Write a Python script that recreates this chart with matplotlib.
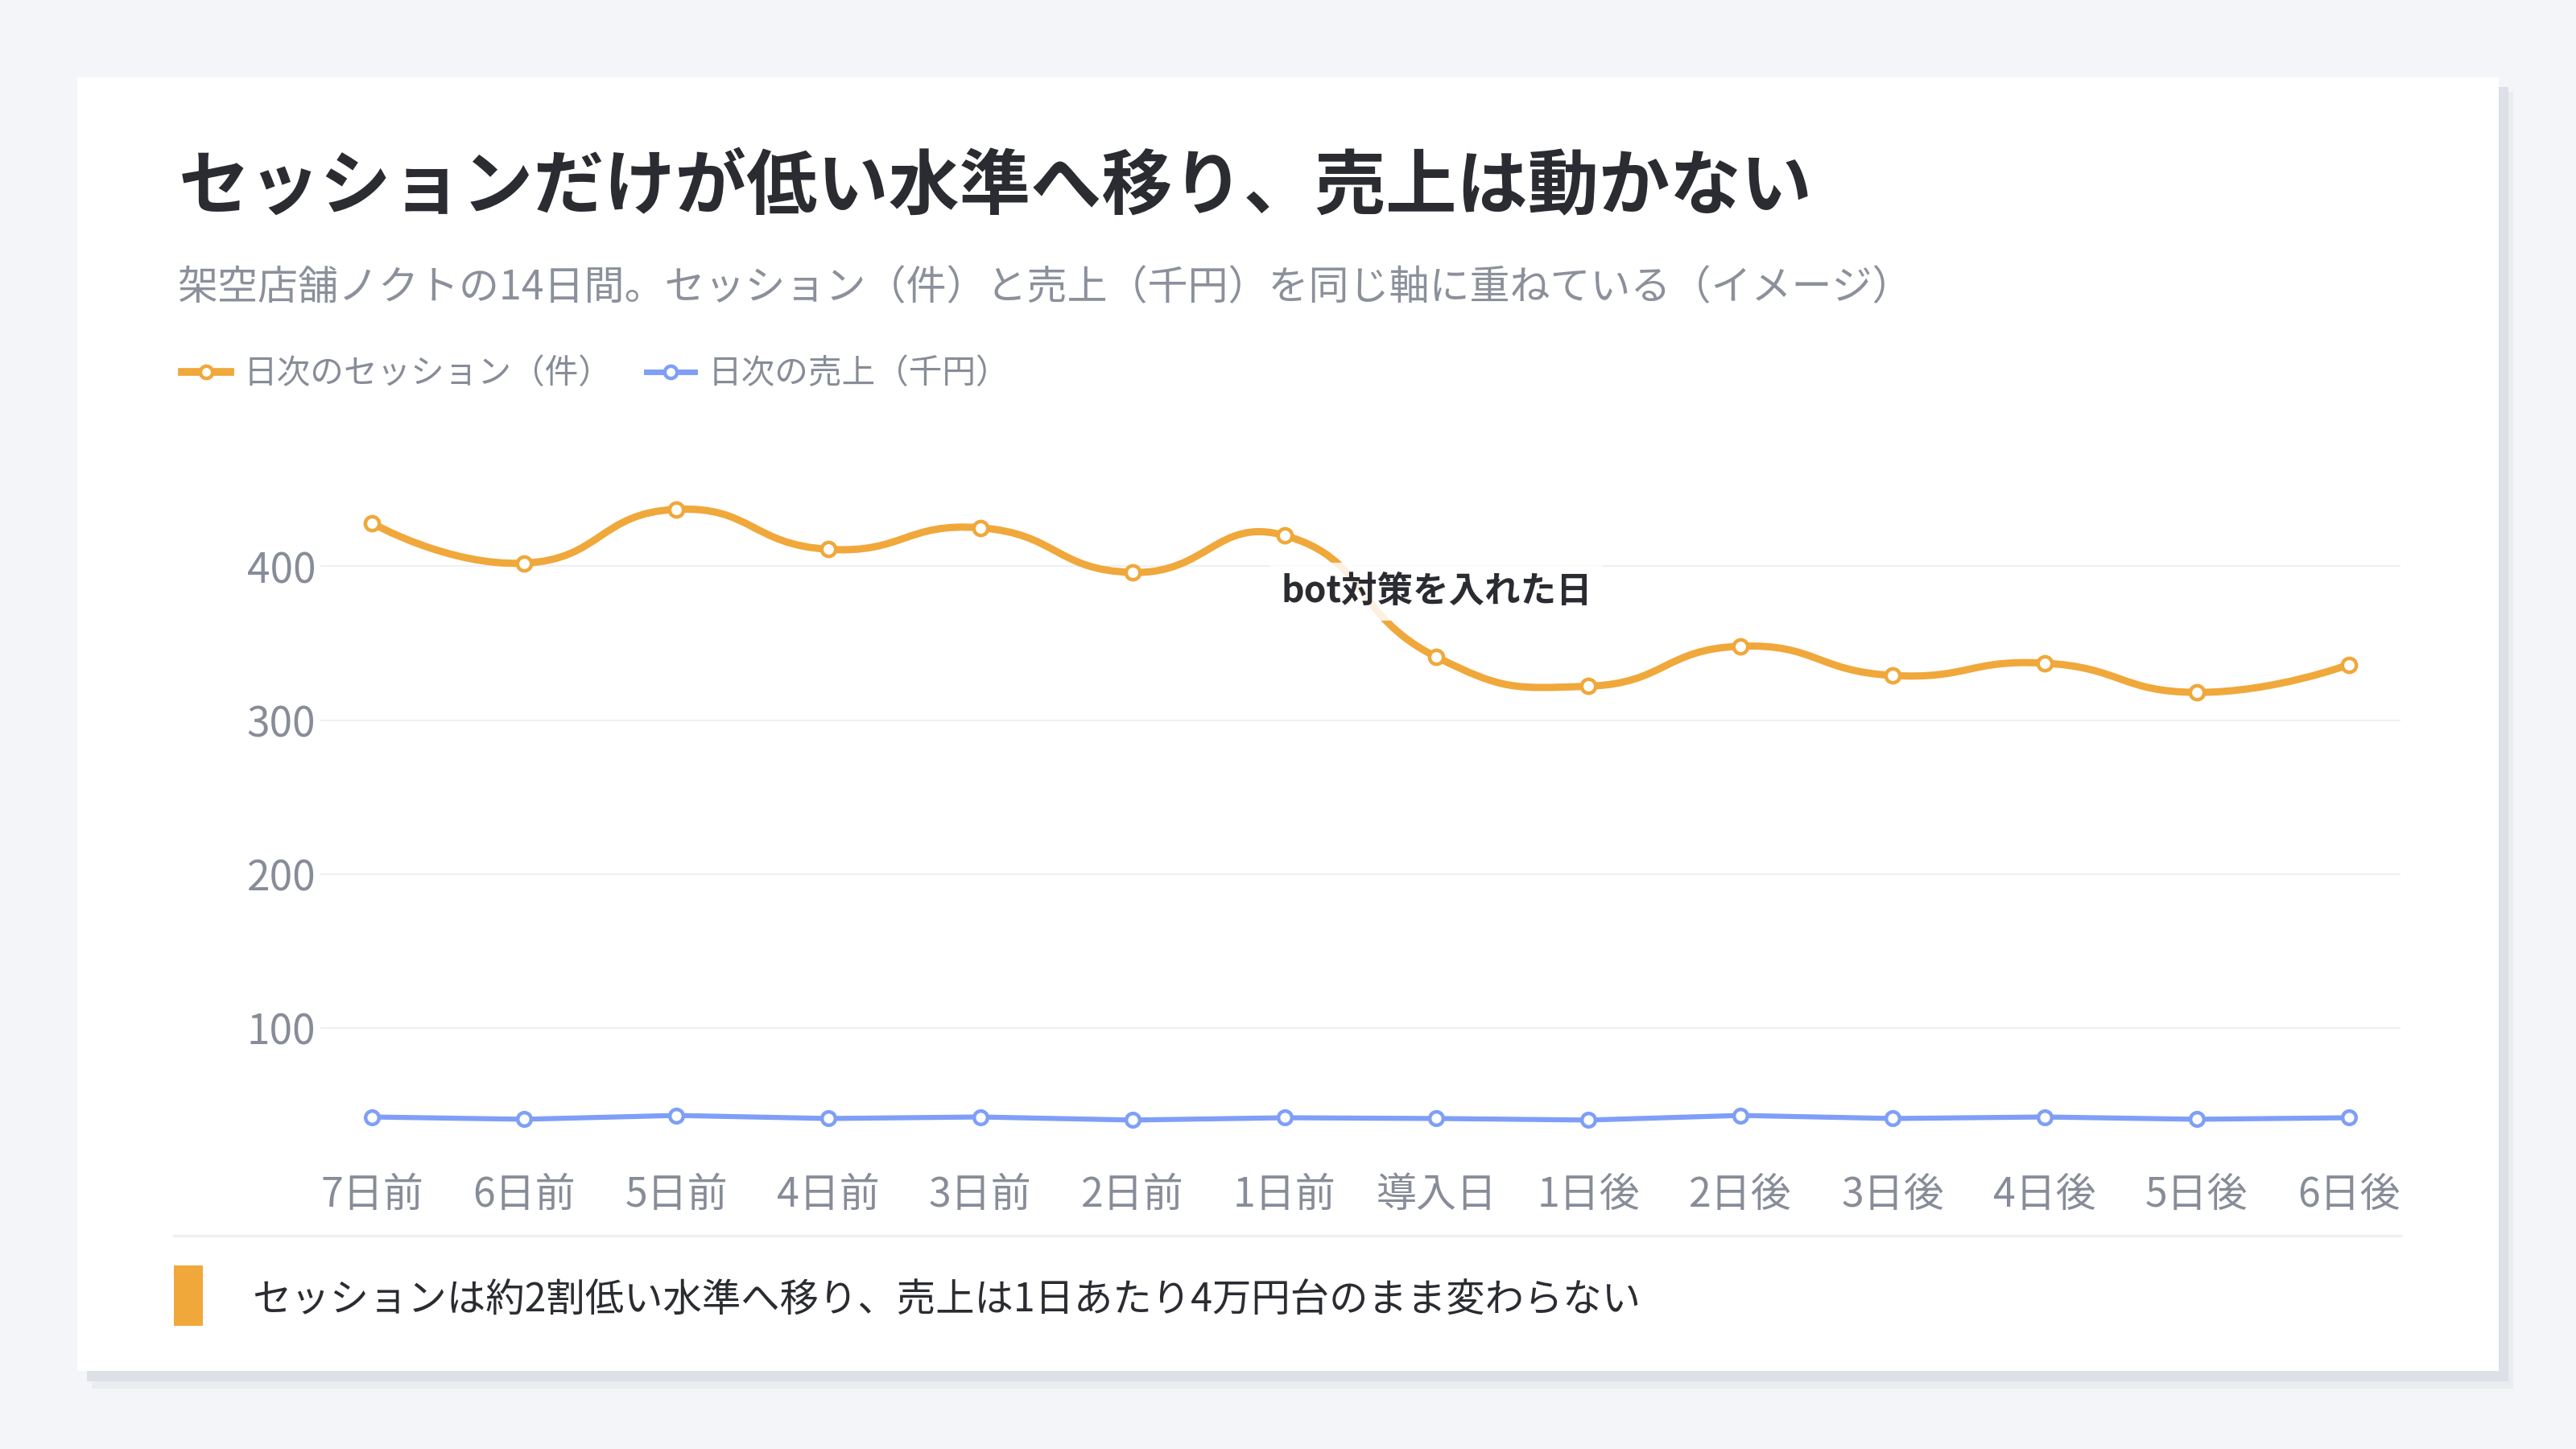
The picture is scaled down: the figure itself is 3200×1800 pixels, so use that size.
import numpy as np
import matplotlib
matplotlib.use("Agg")
import matplotlib.pyplot as plt
from matplotlib.path import Path
from matplotlib.patches import PathPatch, Rectangle
from matplotlib.lines import Line2D

plt.rcParams['font.family'] = ['Noto Sans CJK JP', 'DejaVu Sans']

# data
days = ['7日前', '6日前', '5日前', '4日前', '3日前', '2日前', '1日前',
        '導入日', '1日後', '2日後', '3日後', '4日後', '5日後', '6日後']
sessions = [428, 402, 437, 411, 425, 396, 420, 341, 322, 348, 329, 337, 318, 336]
sales = [42, 40.5, 43, 41, 42, 40, 41.5, 41, 40, 43, 41, 42, 40.5, 41.5]
event_day = '導入日'
event_label = 'bot対策を入れた日'

title = 'セッションだけが低い水準へ移り、売上は動かない'
subtitle = '架空店舗ノクトの14日間。セッション（件）と売上（千円）を同じ軸に重ねている（イメージ）'
note = 'セッションは約2割低い水準へ移り、売上は1日あたり4万円台のまま変わらない'
sess_name = '日次のセッション（件）'
sales_name = '日次の売上（千円）'

ORANGE = '#f0a83b'
BLUE = '#7f9ff7'
DARK = '#2a2c32'
GRAY = '#878c98'
GRID = '#eef0f4'

W, H = 3200, 1800
fig = plt.figure(figsize=(32, 18), dpi=100, facecolor='#f4f5f9')


def fx(px):
    return px / W


def fy(py):
    return 1 - py / H


# card with a soft shadow
for (x0, y0, x1, y1, c) in [(114, 114, 3122, 1725, '#eaecf0'),
                            (108, 108, 3116, 1716, '#dde0e7'),
                            (96, 96, 3104, 1703, 'white')]:
    fig.patches.append(Rectangle((fx(x0), fy(y1)), fx(x1 - x0), (y1 - y0) / H,
                                 transform=fig.transFigure, facecolor=c,
                                 edgecolor='none', zorder=-5))

fig.text(fx(222), fy(233), title, fontsize=63.5, fontweight='bold', color=DARK, va='center')
fig.text(fx(220), fy(358), subtitle, fontsize=36, color='#8b909b', va='center')

# plot area
ylo, yhi = 20, 470
top_px = 1467.8 - yhi * 1.911
bot_px = 1467.8 - ylo * 1.911
ax = fig.add_axes([fx(398), fy(bot_px), fx(2982 - 398), (bot_px - top_px) / H])
ax.set_facecolor('none')
ax.set_xlim(-0.34, len(days) - 1 + 0.34)
ax.set_ylim(ylo, yhi)
for s in ax.spines.values():
    s.set_visible(False)
ax.set_yticks([100, 200, 300, 400])
ax.yaxis.grid(True, color=GRID, linewidth=1.5)
ax.set_axisbelow(True)
ax.set_xticks(range(len(days)))
ax.set_xticklabels(days)
ax.tick_params(axis='x', length=0, pad=21, labelsize=36, labelcolor=GRAY)
ax.tick_params(axis='y', length=0, pad=4, labelsize=37, labelcolor=GRAY)

xs = np.arange(len(days))


def smooth_line(values, color, lw, smooth=0.5):
    # echarts-like smooth curve, built in pixel space
    pts = ax.transData.transform(np.column_stack([xs, values]))
    verts = [pts[0]]
    codes = [Path.MOVETO]
    cp0 = pts[0]
    n = len(pts)
    for i in range(1, n):
        p = pts[i]
        prev = pts[i - 1]
        if i < n - 1:
            nxt = pts[i + 1]
            v = nxt - prev
            l0 = np.hypot(*(p - prev))
            l1 = np.hypot(*(nxt - p))
            r = l1 / (l0 + l1)
            next_cp0 = p + v * smooth * r
        else:
            v = np.zeros(2)
            r = 0.5
            next_cp0 = p
        cp1 = p - v * smooth * (1 - r)
        verts += [cp0, cp1, p]
        codes += [Path.CURVE4] * 3
        cp0 = next_cp0
    verts = ax.transData.inverted().transform(np.array(verts))
    ax.add_patch(PathPatch(Path(verts, codes), facecolor='none', edgecolor=color,
                           linewidth=lw, capstyle='round', joinstyle='round', zorder=3))


smooth_line(sessions, ORANGE, 6.5)
smooth_line(sales, BLUE, 4.5, smooth=0.0)
ax.plot(xs, sessions, linestyle='none', marker='o', markersize=12.5, markerfacecolor='white',
        markeredgecolor=ORANGE, markeredgewidth=3.2, zorder=4)
ax.plot(xs, sales, linestyle='none', marker='o', markersize=12, markerfacecolor='white',
        markeredgecolor=BLUE, markeredgewidth=3.2, zorder=4)

ax.text(days.index(event_day), 383.5, event_label, ha='center', va='center', fontsize=32,
        fontweight='bold', color=DARK, zorder=5,
        bbox=dict(boxstyle='square,pad=0.3', facecolor='white', edgecolor='none', alpha=0.85))

# legend
handles = [Line2D([], [], color=ORANGE, linewidth=7, marker='o', markersize=11,
                  markerfacecolor='white', markeredgecolor=ORANGE, markeredgewidth=3.2),
           Line2D([], [], color=BLUE, linewidth=5, marker='o', markersize=11,
                  markerfacecolor='white', markeredgecolor=BLUE, markeredgewidth=3.2)]
leg = fig.legend(handles, [sess_name, sales_name], loc='center left',
                 bbox_to_anchor=(fx(226), fy(465)), ncol=2, frameon=False, fontsize=30,
                 handlelength=1.45, handletextpad=0.4, columnspacing=1.0,
                 borderpad=0, borderaxespad=0)
for t in leg.get_texts():
    t.set_color(GRAY)

# footer
fig.lines.append(Line2D([fx(216), fx(2982)], [fy(1535), fy(1535)], transform=fig.transFigure,
                        color=GRID, linewidth=2.5))
fig.patches.append(Rectangle((fx(216), fy(1647)), fx(36), 75 / H, transform=fig.transFigure,
                             facecolor=ORANGE, edgecolor='none'))
fig.text(fx(313), fy(1616), note, fontsize=34.8, color=DARK, va='center')

fig.savefig('out.png', dpi=100, facecolor=fig.get_facecolor())
